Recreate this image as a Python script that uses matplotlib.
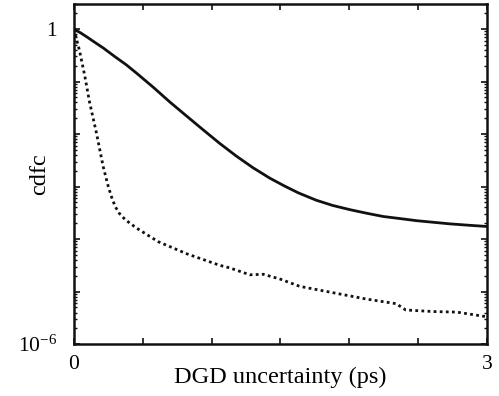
import numpy as np
import matplotlib
matplotlib.use("Agg")
import matplotlib.pyplot as plt
from matplotlib.ticker import FixedLocator, LogLocator, NullFormatter, FixedFormatter

plt.rcParams['font.family'] = ['Liberation Serif', 'DejaVu Serif']
plt.rcParams['mathtext.fontset'] = 'stix'

# Solid curve (DGD uncertainty in ps, log10 cdfc)
solid_x = [0.0, 0.05, 0.10, 0.15, 0.213, 0.30, 0.38, 0.455, 0.577, 0.697, 0.82, 0.939, 1.06, 1.18, 1.30,
           1.423, 1.53, 1.63, 1.76, 1.88, 2.005, 2.13, 2.247, 2.37, 2.49, 2.61, 2.73, 2.86, 3.0]
solid_log = [0.0, -0.075, -0.16, -0.25, -0.36, -0.53, -0.68, -0.84, -1.11, -1.39, -1.66, -1.92, -2.18, -2.42, -2.64,
             -2.84, -2.99, -3.12, -3.26, -3.36, -3.44, -3.51, -3.57, -3.61, -3.65, -3.68, -3.71, -3.735, -3.76]

# Dotted curve
dot_x = [0.0, 0.04, 0.08, 0.113, 0.164, 0.213, 0.25, 0.274, 0.30, 0.33, 0.373, 0.455, 0.613, 0.82,
         1.06, 1.134, 1.278, 1.375, 1.496, 1.64, 1.88, 2.12, 2.34, 2.41, 2.61, 2.78, 3.0]
dot_log = [0.0, -0.40, -0.90, -1.38, -1.98, -2.62, -3.00, -3.20, -3.38, -3.51, -3.63, -3.79, -4.05, -4.28,
           -4.50, -4.55, -4.68, -4.67, -4.76, -4.90, -5.02, -5.14, -5.23, -5.35, -5.38, -5.39, -5.48]

xlabel = "DGD uncertainty (ps)"
ylabel = "cdfc"

fig = plt.figure(figsize=(4.99, 3.96), dpi=100)
ax = fig.add_axes([0.148, 0.131, 0.828, 0.859])

ax.plot(solid_x, 10.0 ** np.array(solid_log), color='#111111', lw=2.0,
        solid_capstyle='butt', solid_joinstyle='round')
ax.plot(dot_x, 10.0 ** np.array(dot_log), color='#111111', lw=2.0, linestyle=(0, (1.0, 1.2)))

ax.set_yscale('log')
ax.set_xlim(0, 3)
ax.set_ylim(1e-6, 3.0)

ax.xaxis.set_major_locator(FixedLocator([0, 0.5, 1, 1.5, 2, 2.5, 3]))
ax.xaxis.set_major_formatter(FixedFormatter(['0', '', '', '', '', '', '3']))
ax.yaxis.set_major_locator(FixedLocator([1e-6, 1e-5, 1e-4, 1e-3, 1e-2, 1e-1, 1]))
ax.yaxis.set_major_formatter(FixedFormatter([r'$\mathregular{10^{-6}}$', '', '', '', '', '', '1']))
ax.yaxis.set_minor_locator(LogLocator(base=10, subs=np.arange(2, 10), numticks=20))
ax.yaxis.set_minor_formatter(NullFormatter())

ax.tick_params(which='both', direction='in', top=True, right=True, labelsize=15.5, color='#111111')
ax.tick_params(which='major', length=4, width=1.2)
ax.tick_params(which='minor', length=2, width=1.0)
ax.tick_params(axis='y', pad=12)
ax.tick_params(axis='x', pad=8)
for s in ax.spines.values():
    s.set_linewidth(1.8)
    s.set_color('#111111')

ax.set_xlabel(xlabel, fontsize=17.5, labelpad=-5)
ax.set_ylabel(ylabel, fontsize=17.5)
ax.yaxis.set_label_coords(-0.058, 0.5)

fig.savefig('out.png', dpi=100)
